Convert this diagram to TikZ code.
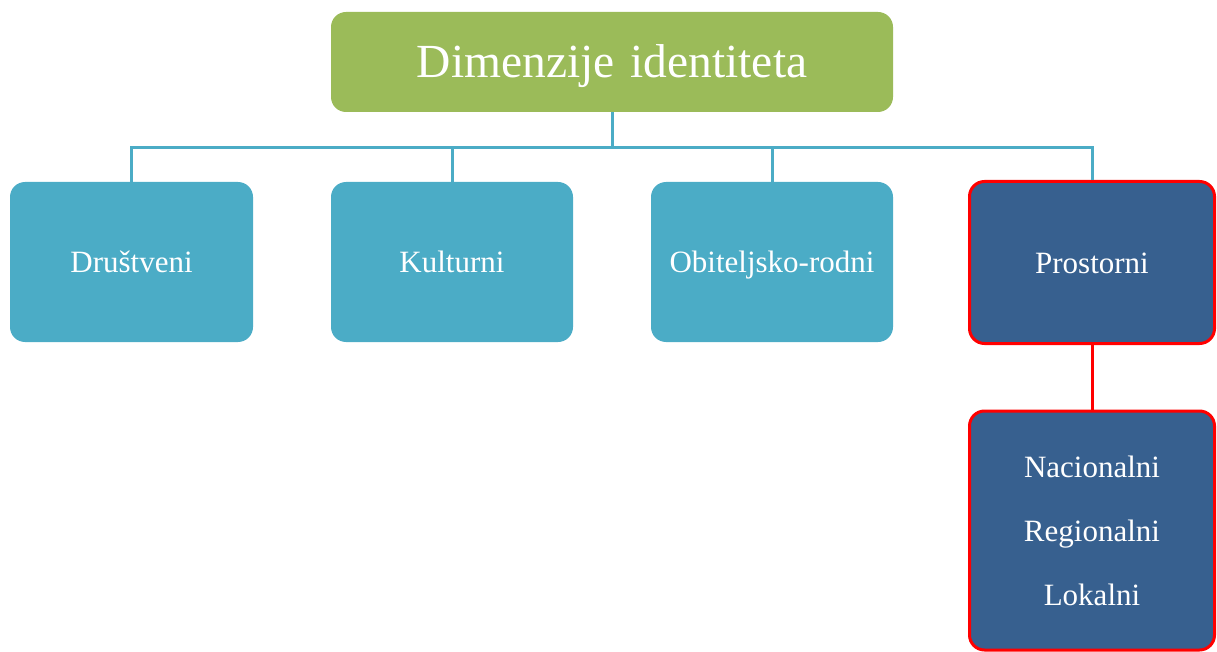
\documentclass[tikz,border=0pt]{standalone}
\usepackage{fontspec}
\setmainfont{Liberation Serif}
\definecolor{topgreen}{HTML}{9BBB59}
\definecolor{childblue}{HTML}{4BACC6}
\definecolor{darkblue}{HTML}{37608F}
\definecolor{linkblue}{HTML}{4BACC6}
\tikzset{
  box/.style={rectangle, rounded corners=15pt, inner sep=0pt, text=white, align=center},
  childbox/.style={box, fill=childblue, minimum height=160pt, text height=21pt, text depth=0pt, font=\fontsize{31}{37}\selectfont},
  redbox/.style={box, fill=darkblue, draw=red, line width=3pt, font=\fontsize{31}{64}\selectfont},
  link/.style={draw=linkblue, line width=3pt},
  redlink/.style={draw=red, line width=3pt}
}
\begin{document}
\begin{tikzpicture}[x=1pt,y=-1pt]
\useasboundingbox (0,0) rectangle (1217,652);
\node[box, fill=topgreen, minimum width=562pt, minimum height=100pt, text height=31pt, text depth=0pt, font=\fontsize{47.5}{56}\selectfont] (top) at (612,62) {Dimenzije\hspace{16pt}identiteta};
\node[childbox, minimum width=243pt] (drus) at (131.5,262) {Društveni};
\node[childbox, minimum width=242pt] (kult) at (452,262) {Kulturni};
\node[childbox, minimum width=242pt] (obit) at (772,262) {Obiteljsko-rodni};
\node[redbox, minimum width=245pt, minimum height=162pt, text height=21pt, text depth=0pt] (pros) at (1092,262.5) {Prostorni};
\node[redbox, minimum width=245pt, minimum height=239pt] (razine) at (1092,530.5) {Nacionalni\\Regionalni\\Lokalni};
\coordinate (bus) at (612,148);
\draw[link] (top.south) -- (bus);
\draw[link] (bus) -| (drus.north);
\draw[link] (bus) -| (kult.north);
\draw[link] (bus) -| (obit.north);
\draw[link] (bus) -| (pros.north);
\draw[redlink] (pros.south) -- (razine.north);
\end{tikzpicture}
\end{document}
